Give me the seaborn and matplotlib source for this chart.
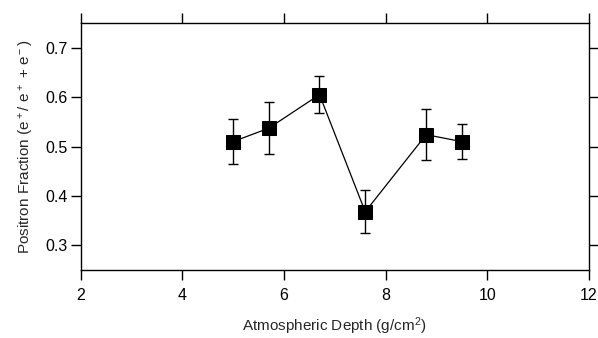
import numpy as np
import pandas as pd
import seaborn as sbn
import matplotlib.pyplot as plt

# datos
profundidad = [5.0, 5.7, 6.7, 7.6, 8.8, 9.5]
fraccion = [0.510, 0.537, 0.605, 0.368, 0.524, 0.510]
error = [0.046, 0.053, 0.037, 0.044, 0.051, 0.035]

x_ticks = [2, 4, 6, 8, 10, 12]
y_ticks = [0.3, 0.4, 0.5, 0.6, 0.7]

datos = pd.DataFrame({"depth": profundidad, "frac": fraccion, "err": error})

sbn.set_theme(style="ticks")
plt.rcParams['font.family'] = ['Liberation Sans', 'DejaVu Sans']
plt.rcParams['mathtext.default'] = 'regular'

fig = plt.figure(figsize=(5.98, 3.38), dpi=100)
ax = fig.add_axes([0.135, 0.201, 0.8495, 0.731])

ax.errorbar(datos["depth"], datos["frac"], yerr=datos["err"], fmt="none",
            ecolor="black", elinewidth=1.0, capsize=3.6, capthick=1.0, zorder=2)
sbn.lineplot(data=datos, x="depth", y="frac", ax=ax, color="black",
             linewidth=0.9, marker="s", markersize=9.5, markeredgecolor="black",
             markerfacecolor="black", zorder=3)

ax.set_xlim(2, 12)
ax.set_ylim(0.25, 0.75)
ax.set_xticks(x_ticks)
ax.set_yticks(y_ticks)
ax.set_yticklabels([f"{v:.1f}" for v in y_ticks])

for lado in ["top", "bottom", "left", "right"]:
    ax.spines[lado].set_visible(True)
    ax.spines[lado].set_linewidth(1.0)
    ax.spines[lado].set_color("black")

ax.tick_params(direction="out", length=7.2, width=1.0, colors="black",
               top=True, right=True, labelsize=11.5)
ax.tick_params(axis="x", pad=6)
ax.tick_params(axis="y", pad=2)

ax.set_xlabel("Atmospheric Depth (g/cm$^2$)", fontsize=11, labelpad=9)
ax.set_ylabel("Positron Fraction (e$^+$/ e$^+$ + e$^-$)", fontsize=11, labelpad=7)

fig.savefig("out.png", dpi=100)
